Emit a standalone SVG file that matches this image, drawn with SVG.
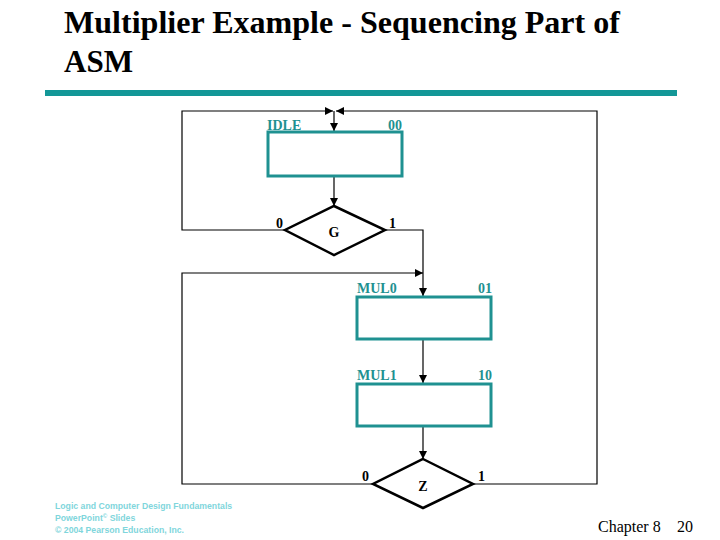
<svg xmlns="http://www.w3.org/2000/svg" width="720" height="540" viewBox="0 0 720 540">
<defs>
<marker id="ah" viewBox="0 0 8 8" refX="8" refY="4" markerWidth="8" markerHeight="8" markerUnits="userSpaceOnUse" orient="auto">
<path d="M0,0 L8,4 L0,8 z" fill="#000"/>
</marker>
</defs>
<style>
.title{font-family:"Liberation Serif",serif;font-weight:bold;font-size:32px;fill:#000}
.box{fill:#fff;stroke:#1f9191;stroke-width:3}
.dia{fill:#fff;stroke:#000;stroke-width:2.5}
.ln{fill:none;stroke:#000;stroke-width:1.2}
.st{font-family:"Liberation Serif",serif;font-weight:bold;font-size:14px;fill:#1f9191}
.lb{font-family:"Liberation Serif",serif;font-weight:bold;font-size:14px;fill:#000}
.ft{font-family:"Liberation Serif",serif;font-size:16px;fill:#000}
.logo{font-family:"Liberation Sans",sans-serif;font-weight:bold;font-size:8.7px;fill:#7fd6dc}
</style>
<rect width="720" height="540" fill="#fff"/>
<text class="title" x="64" y="33" textLength="556" lengthAdjust="spacingAndGlyphs">Multiplier Example - Sequencing Part of</text>
<text class="title" x="64" y="72" textLength="69" lengthAdjust="spacingAndGlyphs">ASM</text>
<rect x="45" y="90" width="632" height="6" fill="#139797"/>

<g id="connectors">
<path class="ln" d="M334,111 V131" marker-end="url(#ah)"/>
<path class="ln" d="M334,176 V206" marker-end="url(#ah)"/>
<path class="ln" d="M285,230 H182 V111 H333" marker-end="url(#ah)"/>
<path class="ln" d="M385,230 H423 V296" marker-end="url(#ah)"/>
<path class="ln" d="M423,339 V383" marker-end="url(#ah)"/>
<path class="ln" d="M423,426 V459" marker-end="url(#ah)"/>
<path class="ln" d="M373,484 H182 V273 H423" marker-end="url(#ah)"/>
<path class="ln" d="M473,484 H597 V111 H336" marker-end="url(#ah)"/>
</g>

<g id="idle">
<rect class="box" x="268" y="132" width="134" height="44"/>
<text class="st" x="267" y="130">IDLE</text>
<text class="st" x="402" y="130" text-anchor="end">00</text>
</g>
<g id="decision-g">
<path class="dia" d="M334,206 L385,230 L334,255 L285,230 Z"/>
<text class="lb" x="334" y="237" text-anchor="middle">G</text>
<text class="lb" x="276" y="228">0</text>
<text class="lb" x="389" y="228">1</text>
</g>
<g id="mul0">
<rect class="box" x="357" y="297" width="134" height="42"/>
<text class="st" x="357" y="293">MUL0</text>
<text class="st" x="492" y="293" text-anchor="end">01</text>
</g>
<g id="mul1">
<rect class="box" x="357" y="384" width="134" height="42"/>
<text class="st" x="357" y="380">MUL1</text>
<text class="st" x="492" y="380" text-anchor="end">10</text>
</g>
<g id="decision-z">
<path class="dia" d="M423,459 L473,484 L423,508 L373,484 Z"/>
<text class="lb" x="423" y="491" text-anchor="middle">Z</text>
<text class="lb" x="362" y="481">0</text>
<text class="lb" x="478" y="481">1</text>
</g>

<text class="logo" x="55" y="509">Logic and Computer Design Fundamentals</text>
<text class="logo" x="55" y="521">PowerPoint<tspan font-size="6" dy="-3">©</tspan><tspan dy="3"> Slides</tspan></text>
<text class="logo" x="55" y="533">© 2004 Pearson Education, Inc.</text>
<text class="ft" x="598" y="532">Chapter 8</text>
<text class="ft" x="677" y="532">20</text>
</svg>
